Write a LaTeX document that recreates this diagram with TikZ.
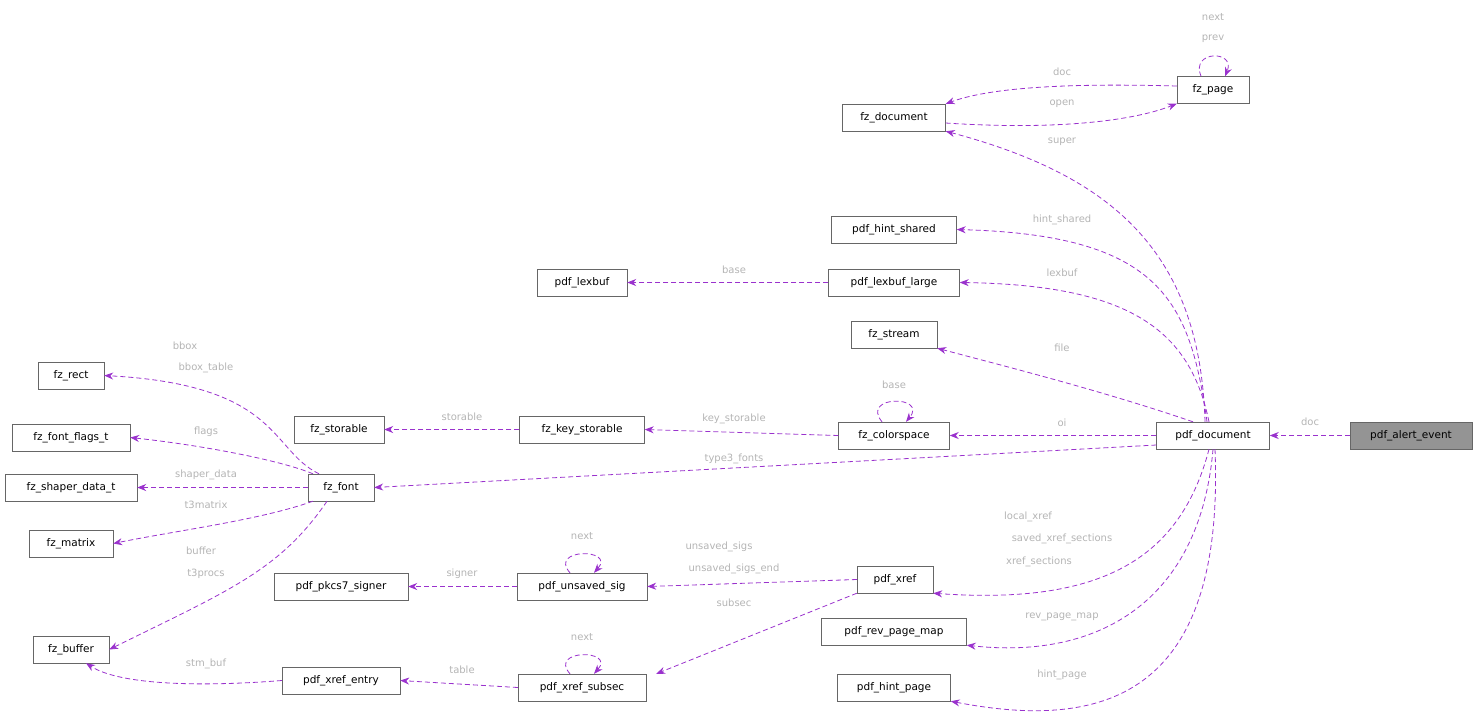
\documentclass[tikz,border=0pt]{standalone}
\usepackage{fontspec}
\setmainfont{DejaVu Sans}
\usetikzlibrary{arrows.meta}
\definecolor{edgec}{HTML}{9A32CD}
\definecolor{labc}{HTML}{B4B4B4}
\begin{document}
\begin{tikzpicture}[x=1pt,y=-1pt,
  box/.style={draw=black!60,fill=white,minimum height=27pt,inner sep=0pt,font=\fontsize{10.5}{12}\selectfont},
  rel/.style={draw=edgec,dashed,dash pattern=on 5pt off 3pt,-{Stealth[length=9pt,width=7pt]},line width=0.8pt},
  lab/.style={text=labc,font=\fontsize{10}{12}\selectfont,inner sep=0pt}]
\useasboundingbox (0,0) rectangle (1479,721);
\node[box,fill=black!42,minimum width=122pt] (alert) at (1411,435.5) {pdf\_alert\_event};
\node[box,minimum width=113pt] (pdoc) at (1213,435.5) {pdf\_document};
\node[box,minimum width=103pt] (fdoc) at (894,117.5) {fz\_document};
\node[box,minimum width=72pt] (fpage) at (1213,90) {fz\_page};
\node[box,minimum width=125pt] (hshared) at (894,229.5) {pdf\_hint\_shared};
\node[box,minimum width=131pt] (lexl) at (894,282.5) {pdf\_lexbuf\_large};
\node[box,minimum width=90pt] (lex) at (582,282.5) {pdf\_lexbuf};
\node[box,minimum width=86pt] (stream) at (894,334.5) {fz\_stream};
\node[box,minimum width=111pt] (cs) at (894,435.5) {fz\_colorspace};
\node[box,minimum width=125pt] (ks) at (582,429.5) {fz\_key\_storable};
\node[box,minimum width=90pt] (st) at (339,429.5) {fz\_storable};
\node[box,minimum width=66pt] (font) at (341,487.5) {fz\_font};
\node[box,minimum width=66pt] (rect) at (71,375.5) {fz\_rect};
\node[box,minimum width=118pt] (flags) at (71,437.5) {fz\_font\_flags\_t};
\node[box,minimum width=132pt] (shaper) at (71,487.5) {fz\_shaper\_data\_t};
\node[box,minimum width=84pt] (matrix) at (71,543.5) {fz\_matrix};
\node[box,minimum width=76pt] (buf) at (71,649.5) {fz\_buffer};
\node[box,minimum width=134pt] (pkcs) at (341,586.5) {pdf\_pkcs7\_signer};
\node[box,minimum width=130pt] (usig) at (582,586.5) {pdf\_unsaved\_sig};
\node[box,minimum width=76pt] (xref) at (895,579.5) {pdf\_xref};
\node[box,minimum width=145pt] (rpm) at (894,631.5) {pdf\_rev\_page\_map};
\node[box,minimum width=113pt] (hpage) at (894,687.5) {pdf\_hint\_page};
\node[box,minimum width=118pt] (xentry) at (341,680.5) {pdf\_xref\_entry};
\node[box,minimum width=128pt] (xsub) at (582,687.5) {pdf\_xref\_subsec};

\draw[rel] (alert.west) -- (pdoc.east);
\draw[rel] (fpage.west|-0,86) .. controls (1100,84) and (1000,84) .. (fdoc.north east);
\draw[rel] (fdoc.east|-0,123) .. controls (1050,130) and (1130,122) .. (fpage.south west);
\draw[rel] ([xshift=-12pt]fpage.north) .. controls (1190,50) and (1236,50) .. ([xshift=12pt]fpage.north) ;
\draw[rel] ([xshift=-8pt]pdoc.north) .. controls (1200,250) and (1110,175) .. (fdoc.south east);
\draw[rel] ([xshift=-6pt]pdoc.north) .. controls (1190,300) and (1160,235) .. (hshared.east);
\draw[rel] ([xshift=-4pt]pdoc.north) .. controls (1190,330) and (1130,285) .. (lexl.east);
\draw[rel] ([xshift=-20pt]pdoc.north) .. controls (1100,390) and (1000,365) .. (stream.south east);
\draw[rel] (pdoc.west) -- (cs.east);
\draw[rel] (pdoc.west|-0,445) -- (font.east);
\draw[rel] ([xshift=-4pt]pdoc.south) .. controls (1180,560) and (1100,605) .. (xref.south east);
\draw[rel] (pdoc.south) .. controls (1200,600) and (1100,660) .. (rpm.south east);
\draw[rel] ([xshift=2pt]pdoc.south) .. controls (1225,700) and (1100,730) .. (hpage.south east);
\draw[rel] (lexl.west) -- (lex.east);
\draw[rel] ([xshift=-12pt]cs.north) .. controls (860,395) and (928,395) .. ([xshift=12pt]cs.north);
\draw[rel] (cs.west) -- (ks.east);
\draw[rel] (ks.west) -- (st.east);
\draw[rel] ([xshift=-22pt]font.north) .. controls (270,450) and (280,385) .. (rect.east);
\draw[rel] ([xshift=-28pt]font.north) .. controls (280,460) and (200,445) .. (flags.east);
\draw[rel] (font.west) -- (shaper.east);
\draw[rel] ([xshift=-28pt]font.south) .. controls (260,520) and (180,530) .. (matrix.east);
\draw[rel] ([xshift=-14pt]font.south) .. controls (280,570) and (230,590) .. (buf.east);
\draw[rel] ([xshift=-12pt]usig.north) .. controls (548,548) and (616,548) .. ([xshift=12pt]usig.north);
\draw[rel] (usig.west) -- (pkcs.east);
\draw[rel] (xref.west) -- (usig.east);
\draw[rel] (xref.south west) -- ([xshift=10pt]xsub.north east);
\draw[rel] ([xshift=-12pt]xsub.north) .. controls (548,649) and (616,649) .. ([xshift=12pt]xsub.north);
\draw[rel] (xsub.west) -- (xentry.east);
\draw[rel] (xentry.west) .. controls (200,687) and (120,685) .. ([xshift=15pt]buf.south);

\node[lab] (l1) at (1310,422) {doc};
\node[lab] (l2) at (1062,72) {doc};
\node[lab] (l3) at (1062,104) {open};
\node[lab] (l4) at (1213,17) {next};
\node[lab] (l5) at (1213,39) {prev};
\node[lab] (l6) at (1062,142) {super};
\node[lab] (l7) at (1062,220) {hint\_shared};
\node[lab] (l8) at (734,270) {base};
\node[lab] (l9) at (1062,273) {lexbuf};
\node[lab] (l10) at (1062,348) {file};
\node[lab] (l11) at (894,385) {base};
\node[lab] (l12) at (734,419) {key\_storable};
\node[lab] (l13) at (462,417) {storable};
\node[lab] (l14) at (1062,423) {oi};
\node[lab] (l15) at (734,459) {type3\_fonts};
\node[lab] (l16) at (185,346) {bbox};
\node[lab] (l17) at (206,368) {bbox\_table};
\node[lab] (l18) at (206,432) {flags};
\node[lab] (l19) at (206,475) {shaper\_data};
\node[lab] (l20) at (206,505) {t3matrix};
\node[lab] (l21) at (201,551) {buffer};
\node[lab] (l22) at (206,574) {t3procs};
\node[lab] (l23) at (462,574) {signer};
\node[lab] (l24) at (582,536) {next};
\node[lab] (l25) at (719,547) {unsaved\_sigs};
\node[lab] (l26) at (734,569) {unsaved\_sigs\_end};
\node[lab] (l27) at (1028,517) {local\_xref};
\node[lab] (l28) at (1062,539) {saved\_xref\_sections};
\node[lab] (l29) at (1039,562) {xref\_sections};
\node[lab] (l30) at (734,603) {subsec};
\node[lab] (l31) at (1062,617) {rev\_page\_map};
\node[lab] (l32) at (582,637) {next};
\node[lab] (l33) at (462,670) {table};
\node[lab] (l34) at (206,664) {stm\_buf};
\node[lab] (l35) at (1062,675) {hint\_page};
\end{tikzpicture}
\end{document}
